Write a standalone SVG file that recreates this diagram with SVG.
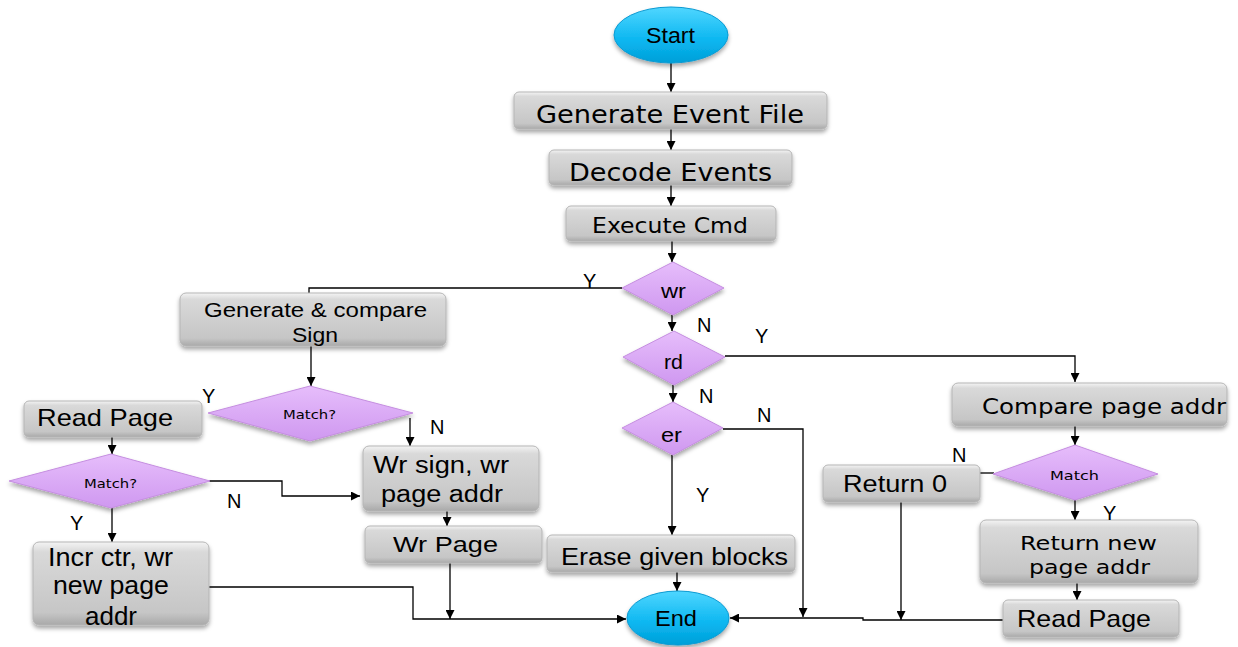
<svg xmlns="http://www.w3.org/2000/svg" width="1238" height="647" viewBox="0 0 1238 647">
<defs>
<linearGradient id="gBox" x1="0" y1="0" x2="0" y2="1">
<stop offset="0" stop-color="#f4f4f4"/>
<stop offset="0.12" stop-color="#d9d9d9"/>
<stop offset="0.85" stop-color="#c6c6c6"/>
<stop offset="1" stop-color="#a9a9a9"/>
</linearGradient>
<linearGradient id="gDia" x1="0" y1="0" x2="0" y2="1">
<stop offset="0" stop-color="#e6bdfb"/>
<stop offset="1" stop-color="#cf98f0"/>
</linearGradient>
<linearGradient id="gEll" x1="0" y1="0" x2="0" y2="1">
<stop offset="0" stop-color="#4fd6ff"/>
<stop offset="0.6" stop-color="#0bb6f0"/>
<stop offset="1" stop-color="#009fd8"/>
</linearGradient>
<filter id="sh" x="-10%" y="-20%" width="120%" height="160%">
<feDropShadow dx="0" dy="3" stdDeviation="2" flood-color="#000" flood-opacity="0.35"/>
</filter>
<marker id="ar" viewBox="0 0 10 10" refX="10" refY="5" markerWidth="9" markerHeight="9" markerUnits="userSpaceOnUse" orient="auto">
<path d="M0,0 L10,5 L0,10 z" fill="#000"/>
</marker>
</defs>
<style>
.box{fill:url(#gBox);stroke:#b5b5b5;stroke-width:1;filter:url(#sh)}
.dia{fill:url(#gDia);stroke:#c58ee0;stroke-width:1;filter:url(#sh)}
.ell{fill:url(#gEll);stroke:#0a9ad2;stroke-width:1;filter:url(#sh)}
.a{font-family:"Liberation Sans",Arial,sans-serif;fill:#000}
.v{font-family:"DejaVu Sans",Verdana,sans-serif;fill:#000}
.lb{font-family:"Liberation Sans",Arial,sans-serif;font-size:20px;fill:#000}
.c{fill:none;stroke:#000;stroke-width:1.3}
.c.m{marker-end:url(#ar)}
</style>
<rect width="1238" height="647" fill="#fff"/>

<g id="connectors">
<path class="c m" d="M671,63 V92"/>
<path class="c m" d="M671,129 V150"/>
<path class="c m" d="M671,185 V206"/>
<path class="c m" d="M672,241 V262"/>
<path class="c m" d="M672,315 V331"/>
<path class="c m" d="M673,385 V402"/>
<path class="c m" d="M672,455 V535"/>
<path class="c" d="M622,288 H309 V293"/>
<path class="c m" d="M311,346 V386"/>
<path class="c m" d="M410,418 V446"/>
<path class="c m" d="M209,481 H282 V496 H360"/>
<path class="c m" d="M112,437 V454"/>
<path class="c m" d="M112,508 V542"/>
<path class="c m" d="M209,587 H413 V619 H626"/>
<path class="c m" d="M447,511 V526"/>
<path class="c m" d="M450,563 V619"/>
<path class="c m" d="M677,572 V591"/>
<path class="c m" d="M723,429 H803 V617"/>
<path class="c m" d="M725,356 H1075 V382"/>
<path class="c m" d="M1075,426 V445"/>
<path class="c" d="M980,473 H994"/>
<path class="c m" d="M1075,500 V520"/>
<path class="c m" d="M1077,583 V600"/>
<path class="c m" d="M1003,620 H863 V618 H730"/>
<path class="c m" d="M901,502 V620"/>
</g>

<g id="start">
<ellipse class="ell" cx="671" cy="35" rx="57" ry="28"/>
<text class="a" x="646" y="43" font-size="22" textLength="49" lengthAdjust="spacingAndGlyphs">Start</text>
</g>
<g id="gen-event">
<rect class="box" x="514" y="92" width="313" height="37" rx="5"/>
<text class="v" x="536" y="123" font-size="24" textLength="268" lengthAdjust="spacingAndGlyphs">Generate Event File</text>
</g>
<g id="decode">
<rect class="box" x="549" y="150" width="243" height="35" rx="5"/>
<text class="v" x="569" y="181" font-size="24" textLength="203" lengthAdjust="spacingAndGlyphs">Decode Events</text>
</g>
<g id="execute">
<rect class="box" x="566" y="206" width="210" height="35" rx="5"/>
<text class="v" x="592" y="233" font-size="21" textLength="156" lengthAdjust="spacingAndGlyphs">Execute Cmd</text>
</g>
<g id="wr">
<polygon class="dia" points="673,262 724,288 673,315 622,288"/>
<text class="a" x="661" y="298" font-size="21" textLength="25" lengthAdjust="spacingAndGlyphs">wr</text>
</g>
<g id="rd">
<polygon class="dia" points="674,331 725,357 674,385 623,357"/>
<text class="a" x="664" y="369" font-size="21" textLength="19" lengthAdjust="spacingAndGlyphs">rd</text>
</g>
<g id="er">
<polygon class="dia" points="673,402 723,428 673,455 622,428"/>
<text class="a" x="661" y="442" font-size="21" textLength="21" lengthAdjust="spacingAndGlyphs">er</text>
</g>
<g id="gen-compare">
<rect class="box" x="180" y="293" width="266" height="53" rx="6"/>
<text class="a" x="204" y="317" font-size="20" textLength="223" lengthAdjust="spacingAndGlyphs">Generate &amp; compare</text>
<text class="a" x="292" y="342" font-size="20" textLength="46" lengthAdjust="spacingAndGlyphs">Sign</text>
</g>
<g id="match1">
<polygon class="dia" points="310,386 413,413 310,441 208,413"/>
<text class="v" x="283" y="419" font-size="13" textLength="53" lengthAdjust="spacingAndGlyphs">Match?</text>
</g>
<g id="read-page-left">
<rect class="box" x="24" y="401" width="178" height="36" rx="5"/>
<text class="a" x="37" y="426" font-size="24" textLength="136" lengthAdjust="spacingAndGlyphs">Read Page</text>
</g>
<g id="match2">
<polygon class="dia" points="111,454 210,481 111,508 9,481"/>
<text class="v" x="84" y="488" font-size="13" textLength="53" lengthAdjust="spacingAndGlyphs">Match?</text>
</g>
<g id="incr">
<rect class="box" x="33" y="542" width="176" height="83" rx="6"/>
<text class="a" x="48" y="566" font-size="25" textLength="125" lengthAdjust="spacingAndGlyphs">Incr ctr, wr</text>
<text class="a" x="53" y="594" font-size="25" textLength="116" lengthAdjust="spacingAndGlyphs">new page</text>
<text class="a" x="85" y="625" font-size="25" textLength="52" lengthAdjust="spacingAndGlyphs">addr</text>
</g>
<g id="wr-sign">
<rect class="box" x="363" y="446" width="176" height="65" rx="6"/>
<text class="a" x="373" y="473" font-size="23" textLength="136" lengthAdjust="spacingAndGlyphs">Wr sign, wr</text>
<text class="a" x="381" y="502" font-size="23" textLength="122" lengthAdjust="spacingAndGlyphs">page addr</text>
</g>
<g id="wr-page">
<rect class="box" x="365" y="526" width="177" height="37" rx="5"/>
<text class="a" x="393" y="552" font-size="22" textLength="105" lengthAdjust="spacingAndGlyphs">Wr Page</text>
</g>
<g id="erase">
<rect class="box" x="547" y="535" width="248" height="37" rx="5"/>
<text class="a" x="561" y="565" font-size="23" textLength="227" lengthAdjust="spacingAndGlyphs">Erase given blocks</text>
</g>
<g id="end">
<ellipse class="ell" cx="678" cy="618" rx="51" ry="27"/>
<text class="a" x="655" y="626" font-size="22" textLength="42" lengthAdjust="spacingAndGlyphs">End</text>
</g>
<g id="compare-page">
<rect class="box" x="952" y="383" width="275" height="43" rx="6"/>
<text class="v" x="982" y="414" font-size="22" textLength="244" lengthAdjust="spacingAndGlyphs">Compare page addr</text>
</g>
<g id="match3">
<polygon class="dia" points="1075,445 1158,474 1075,500 993,474"/>
<text class="v" x="1050" y="480" font-size="13" textLength="49" lengthAdjust="spacingAndGlyphs">Match</text>
</g>
<g id="return0">
<rect class="box" x="823" y="465" width="157" height="37" rx="5"/>
<text class="a" x="843" y="492" font-size="23" textLength="104" lengthAdjust="spacingAndGlyphs">Return 0</text>
</g>
<g id="return-new">
<rect class="box" x="980" y="520" width="218" height="63" rx="6"/>
<text class="v" x="1020" y="550" font-size="20" textLength="137" lengthAdjust="spacingAndGlyphs">Return new</text>
<text class="v" x="1029" y="574" font-size="20" textLength="121" lengthAdjust="spacingAndGlyphs">page addr</text>
</g>
<g id="read-page-right">
<rect class="box" x="1003" y="600" width="176" height="37" rx="5"/>
<text class="a" x="1017" y="627" font-size="24" textLength="134" lengthAdjust="spacingAndGlyphs">Read Page</text>
</g>

<g id="labels">
<text class="lb" x="583" y="288">Y</text>
<text class="lb" x="697" y="332">N</text>
<text class="lb" x="755" y="343">Y</text>
<text class="lb" x="699" y="403">N</text>
<text class="lb" x="757" y="422">N</text>
<text class="lb" x="696" y="502">Y</text>
<text class="lb" x="202" y="403">Y</text>
<text class="lb" x="430" y="434">N</text>
<text class="lb" x="227" y="508">N</text>
<text class="lb" x="70" y="530">Y</text>
<text class="lb" x="952" y="462">N</text>
<text class="lb" x="1103" y="520">Y</text>
</g>
</svg>
